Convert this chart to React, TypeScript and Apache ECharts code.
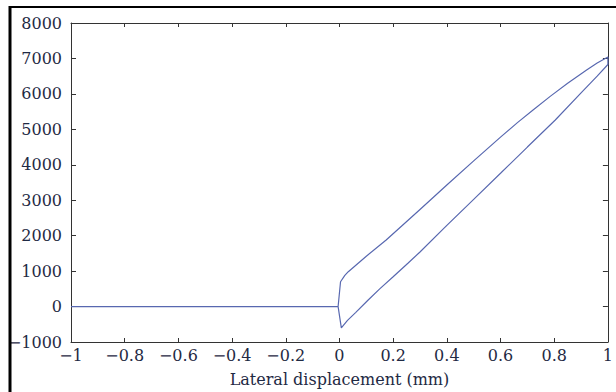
import React, { useEffect, useRef } from "react";
import * as echarts from "echarts";

const xTickLabels = ["−1", "−0.8", "−0.6", "−0.4", "−0.2", "0", "0.2", "0.4", "0.6", "0.8", "1"];
const yTickValues = [-1000, 0, 1000, 2000, 3000, 4000, 5000, 6000, 7000, 8000];

// initial flat segment
const flatX = [-1, -0.005];
const flatY = [0, 0];
// upper (unloading) branch, from origin to the tip
const upperX = [0.004, 0.02, 0.033, 0.1, 0.174, 0.3, 0.4, 0.5, 0.6, 0.663, 0.72, 0.785, 0.85, 0.922, 0.96, 0.99, 1.0];
const upperY = [700, 880, 984, 1420, 1878, 2740, 3430, 4110, 4780, 5190, 5540, 5930, 6300, 6680, 6870, 7000, 7040];
// lower (loading) branch, from the tip back to the origin
const lowerX = [1.0, 0.96, 0.9, 0.804, 0.7, 0.6, 0.5, 0.4, 0.3, 0.256, 0.2, 0.15, 0.107, 0.06, 0.03, 0.007];
const lowerY = [6830, 6500, 6030, 5264, 4500, 3760, 3025, 2290, 1540, 1229, 840, 500, 185, -170, -390, -600];

const lineColor = "#5868b0";
const textColor = "#1f2a44";

export default function App() {
  const ref = useRef<HTMLDivElement>(null);
  useEffect(() => {
    if (!ref.current) return;
    const chart = echarts.init(ref.current, null, { renderer: "svg" });
    const data: number[][] = [];
    flatX.forEach((x, i) => data.push([x, flatY[i]]));
    upperX.forEach((x, i) => data.push([x, upperY[i]]));
    lowerX.forEach((x, i) => data.push([x, lowerY[i]]));
    data.push([flatX[1], 0]);

    const fmtX = (v: number) => {
      const idx = Math.round((v + 1) / 0.2);
      return xTickLabels[idx] ?? "";
    };
    const fmtY = (v: number) => String(Math.round(v)).replace("-", "−");
    const axisFont = { fontFamily: "DejaVu Serif", fontSize: 16, color: textColor };

    chart.setOption({
      animation: false,
      grid: { left: 71, right: 5, top: 23, bottom: 50, containLabel: false },
      xAxis: [
        {
          type: "value",
          min: -1,
          max: 1,
          interval: 0.2,
          position: "bottom",
          axisLine: { show: true, onZero: false, lineStyle: { color: "#333", width: 1 } },
          axisTick: { show: true, inside: true, length: 4, lineStyle: { color: "#333" } },
          axisLabel: { ...axisFont, margin: 5, formatter: fmtX },
          splitLine: { show: false },
          name: "Lateral displacement (mm)",
          nameLocation: "middle",
          nameGap: 29,
          nameTextStyle: { fontFamily: "DejaVu Serif", fontSize: 16, color: textColor },
        },
        {
          type: "value",
          min: -1,
          max: 1,
          interval: 0.2,
          position: "top",
          axisLine: { show: true, onZero: false, lineStyle: { color: "#333", width: 1 } },
          axisTick: { show: true, inside: true, length: 4, lineStyle: { color: "#333" } },
          axisLabel: { show: false },
          splitLine: { show: false },
        },
      ],
      yAxis: [
        {
          type: "value",
          min: yTickValues[0],
          max: yTickValues[yTickValues.length - 1],
          interval: 1000,
          position: "left",
          axisLine: { show: true, onZero: false, lineStyle: { color: "#333", width: 1 } },
          axisTick: { show: true, inside: true, length: 5, lineStyle: { color: "#333" } },
          axisLabel: { ...axisFont, margin: 9, formatter: fmtY },
          splitLine: { show: false },
        },
        {
          type: "value",
          min: yTickValues[0],
          max: yTickValues[yTickValues.length - 1],
          interval: 1000,
          position: "right",
          axisLine: { show: true, onZero: false, lineStyle: { color: "#333", width: 1 } },
          axisTick: { show: true, inside: true, length: 5, lineStyle: { color: "#333" } },
          axisLabel: { show: false },
          splitLine: { show: false },
        },
      ],
      series: [
        {
          type: "line",
          data,
          showSymbol: false,
          symbol: "none",
          lineStyle: { color: lineColor, width: 1.2 },
          xAxisIndex: 0,
          yAxisIndex: 0,
          z: 1,
        },
      ],
      graphic: [
        { type: "line", shape: { x1: 10, y1: 6, x2: 10, y2: 392 }, style: { stroke: "#000", lineWidth: 3 }, z: 100 },
        { type: "line", shape: { x1: 9, y1: 7, x2: 616, y2: 7 }, style: { stroke: "#000", lineWidth: 2 }, z: 100 },
      ],
    });
    return () => chart.dispose();
  }, []);
  return <div ref={ref} style={{ width: 616, height: 392, position: "absolute", left: 0, top: 0, background: "#fff" }} />;
}
